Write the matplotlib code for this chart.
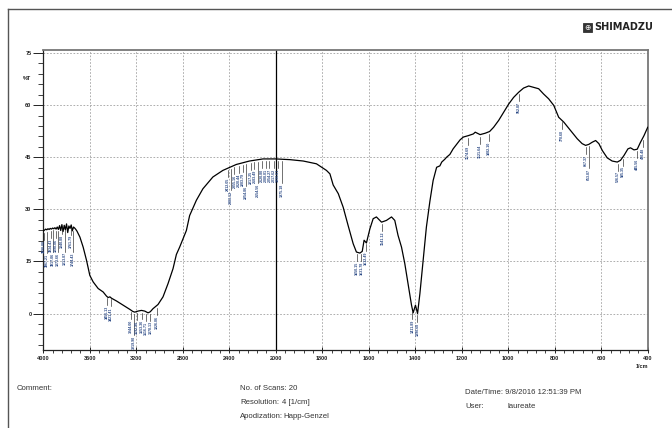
import numpy as np
import matplotlib
matplotlib.use('Agg')
import matplotlib.pyplot as plt
from matplotlib.ticker import FixedLocator, NullFormatter
from matplotlib.lines import Line2D
from matplotlib.patches import Rectangle

# ---------------- data ----------------
wavenumber = [4000, 3990, 3980, 3970, 3960, 3950, 3940, 3930, 3920, 3910, 3900, 3890, 3880, 3870,
              3860, 3850, 3840, 3830, 3820, 3810, 3800, 3790, 3780, 3770, 3760, 3750, 3740, 3730,
              3720, 3710, 3700, 3685, 3657, 3628, 3600, 3571, 3528, 3485, 3456, 3442, 3427, 3413,
              3370, 3313, 3256, 3230, 3213, 3185, 3156, 3127, 3099, 3080, 3056, 3027, 3013, 2970,
              2927, 2884, 2855, 2827, 2798, 2769, 2741, 2683, 2627, 2541, 2455, 2340, 2226, 2110,
              2000, 1940, 1882, 1825, 1782, 1767, 1753, 1739, 1731, 1710, 1689, 1667, 1653, 1638,
              1628, 1620, 1610, 1595, 1581, 1567, 1545, 1524, 1502, 1488, 1474, 1459, 1445, 1431,
              1416, 1409, 1399, 1390, 1380, 1366, 1352, 1337, 1323, 1308, 1294, 1286, 1273, 1265,
              1251, 1237, 1207, 1193, 1172, 1150, 1142, 1121, 1099, 1080, 1063, 1041, 1020, 998,
              977, 955, 934, 912, 891, 869, 848, 826, 804, 783, 775, 761, 732, 703, 682, 667, 653,
              639, 624, 610, 595, 574, 553, 531, 517, 502, 485, 474, 459, 445, 431, 416, 400]
transmittance = [23.8, 24.0, 24.3, 24.1, 24.4, 24.2, 24.5, 24.3, 24.6, 24.4, 24.7, 24.3, 24.9, 24.2,
                 25.3, 23.9, 25.6, 23.6, 25.4, 24.1, 25.8, 23.3, 25.2, 24.5, 25.5, 23.8, 24.9, 24.6,
                 24.2, 23.7, 23.0, 22.0, 19.1, 15.3, 11.0, 9.1, 7.2, 6.2, 5.0, 4.6, 4.8, 4.4,
                 3.6, 2.4, 1.2, 0.6, 0.4, 0.7, 0.9, 0.7, 0.2, 0.5, 1.4, 2.2, 2.6, 4.8,
                 8.6, 12.9, 17.0, 19.1, 21.5, 23.9, 28.2, 32.6, 35.9, 39.3, 41.2, 42.9, 43.9, 44.5,
                 44.5, 44.3, 43.9, 43.1, 41.2, 40.2, 37.0, 35.4, 34.5, 30.6, 25.4, 20.1, 17.7, 17.4,
                 17.9, 21.1, 20.3, 24.4, 27.3, 27.8, 26.3, 26.8, 27.8, 26.8, 22.5, 19.1, 14.4, 8.6,
                 2.4, 0.2, 2.4, 0.0, 5.7, 15.3, 24.9, 32.3, 38.3, 42.1, 42.5, 43.6, 44.4, 45.0,
                 45.8, 47.4, 50.0, 50.8, 51.2, 51.7, 52.2, 51.5, 51.9, 52.4, 53.6, 55.6, 57.9, 60.3,
                 62.2, 63.7, 64.9, 65.5, 65.1, 64.7, 63.2, 61.8, 59.9, 56.5, 56.0, 55.1, 52.7, 50.3,
                 48.9, 48.4, 48.7, 49.3, 49.8, 48.9, 46.9, 44.8, 43.9, 43.6, 44.1, 45.5, 47.4, 47.7,
                 47.1, 47.3, 49.3, 51.2, 53.6]

peak_labels = ["3998.08", "3967.21", "3934.43", "3917.06", "3890.06", "3873.66", "3840.88",
               "3813.87", "3761.79", "3744.43", "3456.13", "3421.41", "3244.00", "3219.90",
               "3192.90", "3153.36", "3116.71", "3078.13", "3026.06", "2412.05", "2383.12",
               "2355.16", "2320.44", "2283.79", "2254.86", "2217.25", "2183.49", "2154.56",
               "2120.80", "2088.01", "2054.27", "2017.62", "1990.61", "1975.18", "1650.15",
               "1631.78", "1612.49", "1541.12", "1411.89", "1390.68", "1174.69", "1121.64",
               "1082.10", "952.87", "770.60", "667.37", "653.87", "526.57", "505.35",
               "445.56", "420.48"]
peak_wn = [float(s) for s in peak_labels]

xtick_major = [4000, 3600, 3200, 2800, 2400, 2000, 1800, 1600, 1400, 1200, 1000, 800, 600, 400]
ytick_major = [0, 15, 30, 45, 60, 75]


def fwd(x):
    x = np.asarray(x, float)
    return np.where(x > 2000, 2000 + (x - 2000) / 2.0, x)


def inv(y):
    y = np.asarray(y, float)
    return np.where(y > 2000, 2000 + (y - 2000) * 2.0, y)


W, H = 672, 428
fig = plt.figure(figsize=(W / 100, H / 100), dpi=100)
fig.patch.set_facecolor('white')
plt.rcParams['font.family'] = ['Liberation Sans', 'DejaVu Sans']

ax = fig.add_axes([43.3 / W, 1 - 350 / H, (647.7 - 43.3) / W, (350 - 49.5) / H])
ax.set_xscale('function', functions=(fwd, inv))
ax.set_xlim(4000, 400)
ax.set_ylim(-10.5, 76)

ax.xaxis.set_major_locator(FixedLocator(xtick_major))
minor_x = [v for v in list(range(400, 2000, 40)) + list(range(2000, 4000, 80)) if v not in xtick_major]
ax.xaxis.set_minor_locator(FixedLocator(minor_x))
ax.xaxis.set_minor_formatter(NullFormatter())
ax.set_xticklabels([str(v) for v in xtick_major])

ax.yaxis.set_major_locator(FixedLocator(ytick_major))
ax.yaxis.set_minor_locator(FixedLocator([v for v in range(-9, 76, 3) if v not in ytick_major]))
ax.set_yticklabels([str(v) for v in ytick_major])

ax.tick_params(axis='x', which='major', direction='inout', length=5, width=0.7, labelsize=4,
               pad=1.5, colors='#222222')
ax.tick_params(axis='x', which='minor', direction='out', length=2.5, width=0.6, colors='#222222')
ax.tick_params(axis='y', which='major', direction='out', length=7, width=0.7, labelsize=4,
               pad=1.5, colors='#222222')
ax.tick_params(axis='y', which='minor', direction='out', length=3.6, width=0.6, colors='#222222')
for lab in ax.get_xticklabels() + ax.get_yticklabels():
    lab.set_fontweight('bold')

for sp in ['top', 'right']:
    ax.spines[sp].set_color('#777777')
    ax.spines[sp].set_linewidth(1.3)
for sp in ['left', 'bottom']:
    ax.spines[sp].set_color('#222222')
    ax.spines[sp].set_linewidth(0.9)

ax.grid(True, which='major', color='#a0a0a0', linestyle=(0, (2, 2)), linewidth=0.6)
ax.axvline(2000, color='black', linewidth=0.9, zorder=2)

ax.plot(wavenumber, transmittance, color='black', linewidth=0.9, zorder=3)

# peak labels (staggered where neighbours are crowded)
wn_inc = np.array(wavenumber[::-1], float)
t_inc = np.array(transmittance[::-1], float)
fig.canvas.draw()
prev_px = None
prev_level = 1
for w, s in zip(peak_wn, peak_labels):
    tc = float(np.interp(w, wn_inc, t_inc))
    px = ax.transData.transform((w, tc))[0]
    if prev_px is not None and abs(px - prev_px) < 3.6 and prev_level == 0:
        level = 1
    else:
        level = 0
    drop = 2.6 + level * 4.2
    ax.plot([w, w], [tc - 0.6, tc - drop], color='#222222', linewidth=0.45, zorder=3)
    ax.text(w, tc - drop - 0.2, s, rotation=90, ha='center', va='top', fontsize=2.6,
            color='#2c4a86', fontweight='bold', zorder=4)
    prev_px = px
    prev_level = level

# axis annotations
fig.text(27 / W, 1 - 78 / H, '%T', fontsize=4, fontweight='bold', ha='center', va='center',
         color='#222222')
fig.text(642 / W, 1 - 366 / H, '1/cm', fontsize=4, fontweight='bold', ha='center', va='center',
         color='#222222')

# outer page frame
fig.add_artist(Line2D([8 / W, 1.0], [1 - 9 / H, 1 - 9 / H], transform=fig.transFigure,
                      color='#555555', linewidth=1.0))
fig.add_artist(Line2D([8 / W, 8 / W], [0.0, 1 - 9 / H], transform=fig.transFigure,
                      color='#555555', linewidth=1.0))

# logo
fig.add_artist(Rectangle((583 / W, 1 - 32 / H), 9 / W, 9 / H, transform=fig.transFigure,
                         facecolor='#333333', edgecolor='#333333', linewidth=0.6))
fig.text(587.5 / W, 1 - 27.5 / H, '⊕', fontsize=5.5, color='white', ha='center', va='center',
         family='DejaVu Sans')
fig.text(594 / W, 1 - 27.5 / H, 'SHIMADZU', fontsize=7, fontweight='bold', ha='left',
         va='center', color='#222222', family='DejaVu Sans')

# footer text
tc = '#333333'
fs = 5.6
fig.text(17 / W, 1 - 388 / H, 'Comment:', fontsize=fs, color=tc, va='center')
fig.text(240 / W, 1 - 388 / H, 'No. of Scans: 20', fontsize=fs, color=tc, va='center')
fig.text(240 / W, 1 - 403 / H, 'Resolution:', fontsize=fs, color=tc, va='center')
fig.text(282 / W, 1 - 403 / H, '4 [1/cm]', fontsize=fs, color=tc, va='center')
fig.text(240 / W, 1 - 417 / H, 'Apodization:', fontsize=fs, color=tc, va='center')
fig.text(283 / W, 1 - 417 / H, 'Happ-Genzel', fontsize=fs, color=tc, va='center')
fig.text(465 / W, 1 - 393 / H, 'Date/Time: 9/8/2016 12:51:39 PM', fontsize=fs, color=tc, va='center')
fig.text(465 / W, 1 - 407 / H, 'User:', fontsize=fs, color=tc, va='center')
fig.text(508 / W, 1 - 407 / H, 'laureate', fontsize=fs, color=tc, va='center')

fig.savefig('out.png', dpi=100)
